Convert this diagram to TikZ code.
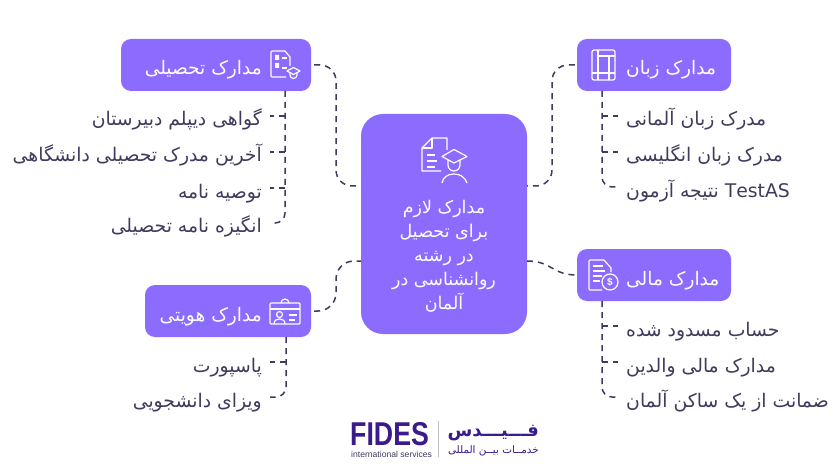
\documentclass[tikz,border=0pt]{standalone}
\usepackage{fontspec}
\usepackage{xcolor}
\usepackage{tikz}
\TeXXeTstate=1
\newfontfamily\arabicfont[Script=Arabic]{DejaVu Sans}
\newfontfamily\logofont{Liberation Sans}
\newcommand{\fa}[1]{\arabicfont\beginR #1\endR}
\definecolor{boxfill}{HTML}{8B6CFF}
\definecolor{inkdark}{HTML}{3F3B5C}
\definecolor{logoink}{HTML}{3A1A8C}
\tikzset{
    headbox/.style={fill=boxfill, rounded corners=10pt, minimum height=52pt, inner sep=0pt},
    headtext/.style={text=white, inner sep=0pt, text height=20pt, text depth=0pt, font=\fontsize{18.6}{20}\selectfont},
    itemtext/.style={text=inkdark, inner sep=8pt, text height=20pt, text depth=0pt, font=\fontsize{18.8}{20}\selectfont},
    link/.style={draw=inkdark, line width=1.5pt, dash pattern=on 6pt off 5pt},
    iconline/.style={draw=white, line width=1.2pt, line join=round, fill=none},
}

\begin{document}
\begin{tikzpicture}[x=1pt, y=-1pt]
    \useasboundingbox (0,0) rectangle (840,473);
    \def\trunkl{285}
    \def\trunkr{602}

    \node[headbox, minimum width=166pt, minimum height=220pt, rounded corners=22pt] (cen) at (444,224) {};
    \node[headbox, minimum width=190pt] (edu) at (216,65) {};
    \node[headbox, minimum width=154pt] (lang) at (654,65) {};
    \node[headbox, minimum width=154pt] (fin) at (654,275) {};
    \node[headbox, minimum width=166pt] (ident) at (228,311) {};

    \node[text=white, align=center, inner sep=0pt, font=\fontsize{17.5}{24}\selectfont] (centxt) at (444,256)
        {\fa{مدارک لازم}\\\fa{برای تحصیل}\\\fa{در رشته}\\\fa{روانشناسی در}\\\fa{آلمان}};
    \node[headtext, anchor=east] (edutxt) at (262,65) {\fa{مدارک تحصیلی}};
    \node[headtext, anchor=west] (langtxt) at (626,65) {\fa{مدارک زبان}};
    \node[headtext, anchor=west] (fintxt) at (626,275) {\fa{مدارک مالی}};
    \node[headtext, anchor=east] (identtxt) at (262,311) {\fa{مدارک هویتی}};

    \node[itemtext, anchor=east] (eduA) at (270,116) {\fa{گواهی دیپلم دبیرستان}};
    \node[itemtext, anchor=east] (eduB) at (270,152) {\fa{آخرین مدرک تحصیلی دانشگاهی}};
    \node[itemtext, anchor=east] (eduC) at (270,188) {\fa{توصیه نامه}};
    \node[itemtext, anchor=east] (eduD) at (270,223) {\fa{انگیزه نامه تحصیلی}};
    \node[itemtext, anchor=west] (langA) at (618,116) {\fa{مدرک زبان آلمانی}};
    \node[itemtext, anchor=west] (langB) at (618,152) {\fa{مدرک زبان انگلیسی}};
    \node[itemtext, anchor=west] (langC) at (618,187) {\fa{\beginL TestAS\endL{} نتیجه آزمون}};
    \node[itemtext, anchor=west] (finA) at (618,326) {\fa{حساب مسدود شده}};
    \node[itemtext, anchor=west] (finB) at (618,362) {\fa{مدارک مالی والدین}};
    \node[itemtext, anchor=west] (finC) at (618,397) {\fa{ضمانت از یک ساکن آلمان}};
    \node[itemtext, anchor=east] (identA) at (270,362) {\fa{پاسپورت}};
    \node[itemtext, anchor=east] (identB) at (270,397) {\fa{ویزای دانشجویی}};

    \coordinate (cenul) at (361,186);
    \coordinate (cenur) at (527,186);
    \coordinate (cenll) at (361,261);
    \coordinate (cenlr) at (527,261);
    \coordinate (edutr) at (\trunkl,91);
    \coordinate (langtr) at (\trunkr,91);
    \coordinate (fintr) at (\trunkr,301);
    \coordinate (identtr) at (\trunkl+1,337);

    \draw[link, rounded corners=16pt, shorten <=3pt] (edu.east) -- (336,65) -- (336,186) -- (cenul);
    \draw[link, rounded corners=16pt, shorten <=2pt] (lang.west) -- (552,65) -- (552,186) -- (cenur);
    \draw[link, rounded corners=18pt, shorten <=3pt] (ident.east) -- (336,311) -- (336,261) -- (cenll);
    \draw[link] (cenlr) .. controls (552,261) and (552,275) .. (fin.west);

    \foreach \lab in {eduA,eduB,eduC} {
        \draw[link] (edutr |- \lab.east) -- (\lab.east);
    }
    \draw[link, rounded corners=10pt] (edutr) |- (eduD.east);
    \foreach \lab in {langA,langB} {
        \draw[link] (langtr |- \lab.west) -- (\lab.west);
    }
    \draw[link, rounded corners=10pt] (langtr) |- (langC.west);
    \foreach \lab in {finA,finB} {
        \draw[link] (fintr |- \lab.west) -- (\lab.west);
    }
    \draw[link, rounded corners=10pt] (fintr) |- (finC.west);
    \draw[link] (identtr |- identA.east) -- (identA.east);
    \draw[link, rounded corners=10pt] (identtr) |- (identB.east);

    % centre icon
    \draw[iconline] (447,150) -- (447,138) -- (432,138) -- (422,148) -- (422,171) -- (441,171);
    \draw[iconline] (432,138) -- (432,148) -- (422,148);
    \draw[iconline] (427,155) -- (435,155) (427,161) -- (437,161) (427,167) -- (435,167);
    \draw[iconline] (442,156.5) -- (454,149.5) -- (467,156.5) -- (454,163) -- cycle;
    \draw[iconline] (448,160) -- (448,165) arc[start angle=180, end angle=0, x radius=6, y radius=6] -- (460,160);
    \draw[iconline] (442,183) .. controls (443,177) and (448,174) .. (454,174) .. controls (460,174) and (465,177) .. (467,183);

    % education icon
    \draw[iconline, rounded corners=1pt] (285,51) -- (271,51) -- (271,77) -- (286,77);
    \draw[iconline] (285,51) -- (290,57) -- (290,66);
    \fill[white] (275,55) rectangle (279,60) (275,63) rectangle (279,68);
    \draw[iconline] (282,58) -- (287,58) (282,68) -- (287,68);
    \draw[iconline] (287,71) -- (293.5,67.5) -- (300,71) -- (293.5,74.5) -- cycle;
    \draw[iconline] (290,73) -- (290,75) arc[start angle=180, end angle=0, x radius=3.5, y radius=3.5] -- (297,73);

    % language icon
    \draw[iconline, rounded corners=2pt] (592,50) rectangle (615,80);
    \draw[iconline] (598,50) -- (598,80) (609,56) -- (609,80) (598,56) -- (615,56) (592,73) -- (615,73);

    % finance icon
    \draw[iconline, rounded corners=1pt] (604,260) -- (589,260) -- (589,290) -- (602,290);
    \draw[iconline] (604,260) -- (611,268) -- (611,272);
    \draw[iconline] (593,266) -- (603,266) (593,271) -- (605,271) (593,276) -- (602,276) (593,281) -- (600,281);
    \draw[iconline] (610,282) circle[radius=8];
    \node[text=white, inner sep=0pt, font=\logofont\bfseries\fontsize{10}{10}\selectfont] (dollar) at (610,282) {\$};

    % identity icon
    \draw[iconline, rounded corners=1pt] (270,303) rectangle (300,324);
    \draw[iconline] (270,309) -- (300,309);
    \draw[iconline] (281,303) arc[start angle=180, end angle=0, x radius=4, y radius=-4] -- (289,303);
    \draw[iconline] (279.5,314.5) circle[radius=3];
    \draw[iconline] (274,324) .. controls (274,320) and (277,319) .. (279.5,319) .. controls (282,319) and (285,320) .. (285,324);
    \draw[iconline] (289,315) -- (297,315) (289,320) -- (295,320);

    % logo
    \node[text=logoink, inner sep=0pt, anchor=base west, text depth=0pt, font=\logofont\bfseries\fontsize{33}{34}\selectfont] (fides) at (350,445) {\scalebox{0.81}[1]{FIDES}};
    \node[text=inkdark, inner sep=0pt, anchor=base west, font=\logofont\fontsize{8.6}{10}\selectfont] (fidessub) at (351,457) {international services};
    \draw[draw=gray!50, line width=0.8pt] (438,421) -- (438,457);
    \node[text=logoink, inner sep=0pt, anchor=base east, font=\bfseries\fontsize{18}{20}\selectfont] (fidesfa) at (539,436) {\fa{فـــیـــدس}};
    \node[text=logoink, inner sep=0pt, anchor=base east, font=\fontsize{10.4}{10}\selectfont] (fidesfasub) at (539,453) {\fa{خدمــات بیــن المللی}};
\end{tikzpicture}
\end{document}
